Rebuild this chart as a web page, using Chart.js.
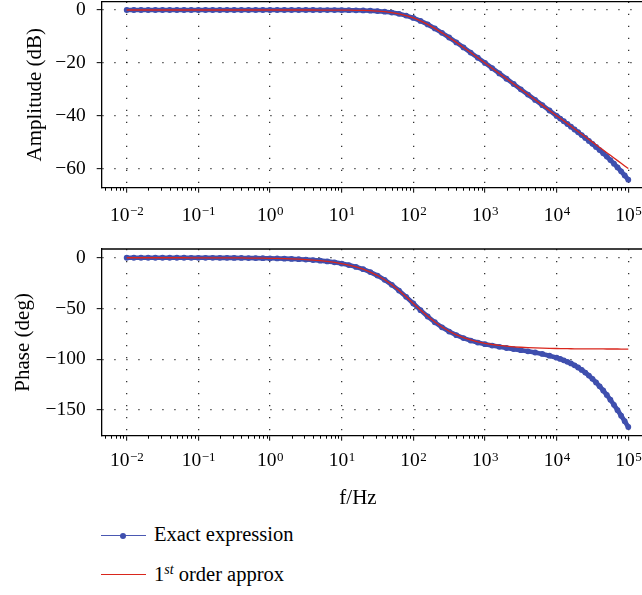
<!DOCTYPE html>
<html>
<head>
<meta charset="utf-8">
<script src="https://cdn.jsdelivr.net/npm/chart.js@4.4.1/dist/chart.umd.min.js"></script>
<style>
  html, body { margin: 0; padding: 0; background: #fff; }
  body { width: 642px; height: 595px; position: relative; overflow: hidden; font-family: "Liberation Serif", serif; color: #000; }
  .box { position: absolute; left: 0; width: 642px; }
  #topBox { top: 0; height: 230px; }
  #botBox { top: 232px; height: 290px; }
  #xTitle { position: absolute; top: 487px; left: 308px; width: 100px; text-align: center; font-size: 21px; line-height: 1; }
  .leg { position: absolute; left: 154px; font-size: 20.5px; line-height: 1; white-space: nowrap; }
  .leg sup { font-size: 14px; font-style: italic; vertical-align: 0; position: relative; top: -7px; }
  .swatch { position: absolute; left: 101px; width: 45px; }
  .dot { position: absolute; width: 6px; height: 6px; border-radius: 50%; background: #3f4fae; left: 120px; }
</style>
</head>
<body>
<div class="box" id="topBox"><canvas id="ampChart"></canvas></div>
<div class="box" id="botBox"><canvas id="phaseChart"></canvas></div>
<div id="xTitle">f/Hz</div>

<div class="swatch" style="top:535px; border-top:1.5px solid #4a58b2;"></div>
<div class="dot" style="top:533px;"></div>
<div class="leg" style="top:523.5px;">Exact expression</div>
<div class="swatch" style="top:573.5px; border-top:1.3px solid #d9261c;"></div>
<div class="leg" style="top:563.8px;">1<sup>st</sup> order approx</div>

<script>
// frequency (Hz)
const freq = [
  0.01, 0.01259, 0.01585, 0.01995, 0.02512, 0.03162, 0.03981, 0.05012, 0.0631, 0.07943,
  0.1, 0.1259, 0.1585, 0.1995, 0.2512, 0.3162, 0.3981, 0.5012, 0.631, 0.7943,
  1, 1.259, 1.585, 1.995, 2.512, 3.162, 3.981, 5.012, 6.31, 7.943,
  10, 12.59, 15.85, 19.95, 25.12, 31.62, 39.81, 50.12, 63.1, 79.43,
  100, 125.9, 158.5, 199.5, 251.2, 316.2, 398.1, 501.2, 631, 794.3,
  1000, 1259, 1585, 1995, 2512, 3162, 3981, 5012, 6310, 7943,
  10000, 11220, 12590, 14130, 15850, 17780, 19950, 22390, 25120, 28180,
  31620, 35480, 39810, 44670, 50120, 56230, 63100, 70790, 79430, 89130, 100000
];

// amplitude (dB)
const ampExact = [
  0, 0, 0, 0, 0, 0, 0, 0, 0, 0,
  0, 0, 0, 0, 0, 0, 0, 0, 0, 0,
  0, -0.001, -0.001, -0.002, -0.003, -0.004, -0.007, -0.011, -0.017, -0.027,
  -0.043, -0.068, -0.108, -0.170, -0.266, -0.414, -0.639, -0.973, -1.455, -2.124,
  -3.010, -4.124, -5.455, -6.973, -8.639, -10.414, -12.266, -14.169, -16.108, -18.068,
  -20.04, -22.03, -24.02, -26.01, -28.01, -30.01, -32.01, -34.02, -36.03, -38.04,
  -40.07, -41.09, -42.11, -43.14, -44.17, -45.22, -46.27, -47.34, -48.42, -49.53,
  -50.66, -51.81, -53.00, -54.23, -55.48, -56.80, -58.17, -59.59, -61.07, -62.60, -64.20
];
const ampApprox = [
  0, 0, 0, 0, 0, 0, 0, 0, 0, 0,
  0, 0, 0, 0, 0, 0, 0, 0, 0, 0,
  0, -0.001, -0.001, -0.002, -0.003, -0.004, -0.007, -0.011, -0.017, -0.027,
  -0.043, -0.068, -0.108, -0.170, -0.266, -0.414, -0.639, -0.973, -1.455, -2.124,
  -3.010, -4.124, -5.455, -6.973, -8.639, -10.414, -12.266, -14.169, -16.108, -18.068,
  -20.043, -22.027, -24.017, -26.011, -28.007, -30.004, -32.003, -34.002, -36.001, -38.001,
  -40, -41, -42, -43, -44, -45, -46, -47, -48, -49,
  -50, -51, -52, -53, -54, -55, -56, -57, -58, -59, -60
];

// phase (deg)
const phaseExact = [
  -0.01, -0.01, -0.01, -0.01, -0.01, -0.02, -0.02, -0.03, -0.04, -0.05,
  -0.06, -0.07, -0.09, -0.11, -0.14, -0.18, -0.23, -0.29, -0.36, -0.46,
  -0.57, -0.72, -0.91, -1.14, -1.44, -1.81, -2.28, -2.87, -3.61, -4.54,
  -5.72, -7.19, -9.03, -11.30, -14.13, -17.59, -21.75, -26.68, -32.32, -38.54,
  -45.09, -51.65, -57.89, -63.56, -68.53, -72.74, -76.26, -79.17, -81.56, -83.54,
  -85.19, -86.56, -87.79, -88.93, -90.02, -91.09, -92.16, -93.36, -94.79, -96.48,
  -98.43, -99.69, -101.05, -102.49, -104.14, -105.98, -108.11, -110.54, -113.17, -116.10,
  -119.32, -122.84, -126.66, -130.77, -135.19, -139.90, -144.91, -150.12, -155.53, -161.04, -166.74
];
const phaseApprox = [
  -0.01, -0.01, -0.01, -0.01, -0.01, -0.02, -0.02, -0.03, -0.04, -0.05,
  -0.06, -0.07, -0.09, -0.11, -0.14, -0.18, -0.23, -0.29, -0.36, -0.46,
  -0.57, -0.72, -0.91, -1.14, -1.44, -1.81, -2.28, -2.87, -3.61, -4.54,
  -5.71, -7.18, -9.01, -11.28, -14.10, -17.55, -21.70, -26.62, -32.25, -38.46,
  -45.00, -51.54, -57.75, -63.38, -68.30, -72.45, -75.90, -78.72, -80.99, -82.82,
  -84.29, -85.46, -86.39, -87.13, -87.72, -88.19, -88.56, -88.86, -89.09, -89.28,
  -89.43, -89.49, -89.55, -89.59, -89.64, -89.68, -89.71, -89.74, -89.77, -89.80,
  -89.82, -89.84, -89.86, -89.87, -89.89, -89.90, -89.91, -89.92, -89.93, -89.94, -89.94
];

// ticks
const xDecades = [0.01, 0.1, 1, 10, 100, 1000, 10000, 100000];
const xExponents = ['−2', '−1', '0', '1', '2', '3', '4', '5'];
const ampTicks = [0, -20, -40, -60];
const phaseTicks = [0, -50, -100, -150];

const X_MIN = 0.00448, X_MAX = 155300;
const BLUE = '#3f4fae';
const RED = '#d9261c';
const FONT = '"Liberation Serif", serif';

// minor ticks: 2..9 x each decade inside the axis range
const xMinor = [];
[0.001].concat(xDecades).forEach(d => {
  for (let m = 2; m <= 9; m++) {
    const v = d * m;
    if (v > X_MIN && v < X_MAX) xMinor.push(v);
  }
});

const isDecade = v => xDecades.some(d => Math.abs(v / d - 1) < 1e-6);

const decor = {
  id: 'decor',
  afterDraw(chart, args, opts) {
    const { ctx, chartArea: a } = chart;
    const x = chart.scales.x;
    ctx.save();
    // top frame line
    ctx.strokeStyle = '#000';
    ctx.lineWidth = 1.3;
    ctx.beginPath();
    ctx.moveTo(a.left, a.top);
    ctx.lineTo(a.right, a.top);
    ctx.stroke();
    // minor ticks
    ctx.lineWidth = 1;
    ctx.beginPath();
    xMinor.forEach(v => {
      const px = Math.round(x.getPixelForValue(v)) + 0.5;
      ctx.moveTo(px, a.bottom);
      ctx.lineTo(px, a.bottom + 3);
    });
    ctx.stroke();
    // decade labels 10^n
    ctx.fillStyle = '#000';
    ctx.textBaseline = 'alphabetic';
    ctx.textAlign = 'left';
    const base = a.bottom + opts.labelOffset;
    xDecades.forEach((d, i) => {
      const px = x.getPixelForValue(d);
      ctx.font = '19.5px ' + FONT;
      const wb = ctx.measureText('10').width;
      ctx.font = '13px ' + FONT;
      const we = ctx.measureText(xExponents[i]).width;
      const left = px - (wb + we) / 2;
      ctx.font = '19.5px ' + FONT;
      ctx.fillText('10', left, base);
      ctx.font = '13px ' + FONT;
      ctx.fillText(xExponents[i], left + wb + 0.5, base - 5.5);
    });
    ctx.restore();
  }
};

function makeChart(id, exact, approx, yTicks, yMin, yMax, title, titlePad, padTop, xHeight, labelOffset) {
  return new Chart(document.getElementById(id), {
    type: 'line',
    data: {
      datasets: [
        {
          label: 'Exact expression',
          data: freq.map((f, i) => ({ x: f, y: exact[i] })),
          borderColor: BLUE,
          backgroundColor: BLUE,
          borderWidth: 4.6,
          pointRadius: 2.9,
          pointBorderWidth: 0,
          pointBackgroundColor: BLUE,
          tension: 0,
          order: 2
        },
        {
          label: '1st order approx',
          data: freq.map((f, i) => ({ x: f, y: approx[i] })),
          borderColor: RED,
          borderWidth: 1.3,
          pointRadius: 0,
          tension: 0,
          order: 1
        }
      ]
    },
    options: {
      responsive: true,
      maintainAspectRatio: false,
      animation: false,
      devicePixelRatio: 1,
      layout: { autoPadding: false, padding: { top: padTop, left: 0, right: 0, bottom: 0 } },
      plugins: {
        legend: { display: false },
        tooltip: { enabled: false },
        decor: { labelOffset: labelOffset }
      },
      scales: {
        x: {
          type: 'logarithmic',
          min: X_MIN,
          max: X_MAX,
          afterBuildTicks: s => {
            s.ticks = xDecades.concat(xMinor).sort((p, q) => p - q).map(v => ({ value: v, major: isDecade(v) }));
          },
          afterFit: s => { s.height = xHeight; s.paddingLeft = 0; s.paddingRight = 0; },
          ticks: { display: false, autoSkip: false },
          grid: {
            color: c => (c.tick && isDecade(c.tick.value)) ? 'rgba(0,0,0,0.8)' : 'rgba(0,0,0,0)',
            tickColor: c => (c.tick && isDecade(c.tick.value)) ? '#000' : 'rgba(0,0,0,0)',
            lineWidth: 1.3,
            tickLength: 5,
            tickWidth: 1
          },
          border: { display: true, color: '#000', width: 1.3, dash: [1.3, 10.7] }
        },
        y: {
          type: 'linear',
          min: yMin,
          max: yMax,
          afterBuildTicks: s => { s.ticks = yTicks.map(v => ({ value: v })); },
          afterFit: s => { s.width = 101.7; s.paddingTop = 0; s.paddingBottom = 0; },
          ticks: {
            autoSkip: false,
            padding: 11,
            color: '#000',
            font: { family: FONT, size: 19.5 },
            callback: v => v === 0 ? '0' : '−' + Math.abs(v)
          },
          grid: {
            color: 'rgba(0,0,0,0.8)',
            lineWidth: 1.3,
            tickColor: '#000',
            tickLength: 5,
            tickWidth: 1
          },
          border: { display: true, color: '#000', width: 1.3, dash: [1.3, 10.7] },
          title: {
            display: true,
            text: title,
            color: '#000',
            font: { family: FONT, size: 21 },
            padding: { top: titlePad, bottom: 0 }
          }
        }
      }
    },
    plugins: [decor]
  });
}

makeChart('ampChart', ampExact, ampApprox, ampTicks, -67.25, 3.14, 'Amplitude (dB)', 22.4, 1.7, 42.3, 33);
makeChart('phaseChart', phaseExact, phaseApprox, phaseTicks, -175.3, 8.6, 'Phase (deg)', 10.4, 17, 86.3, 30.5);
</script>
</body>
</html>
